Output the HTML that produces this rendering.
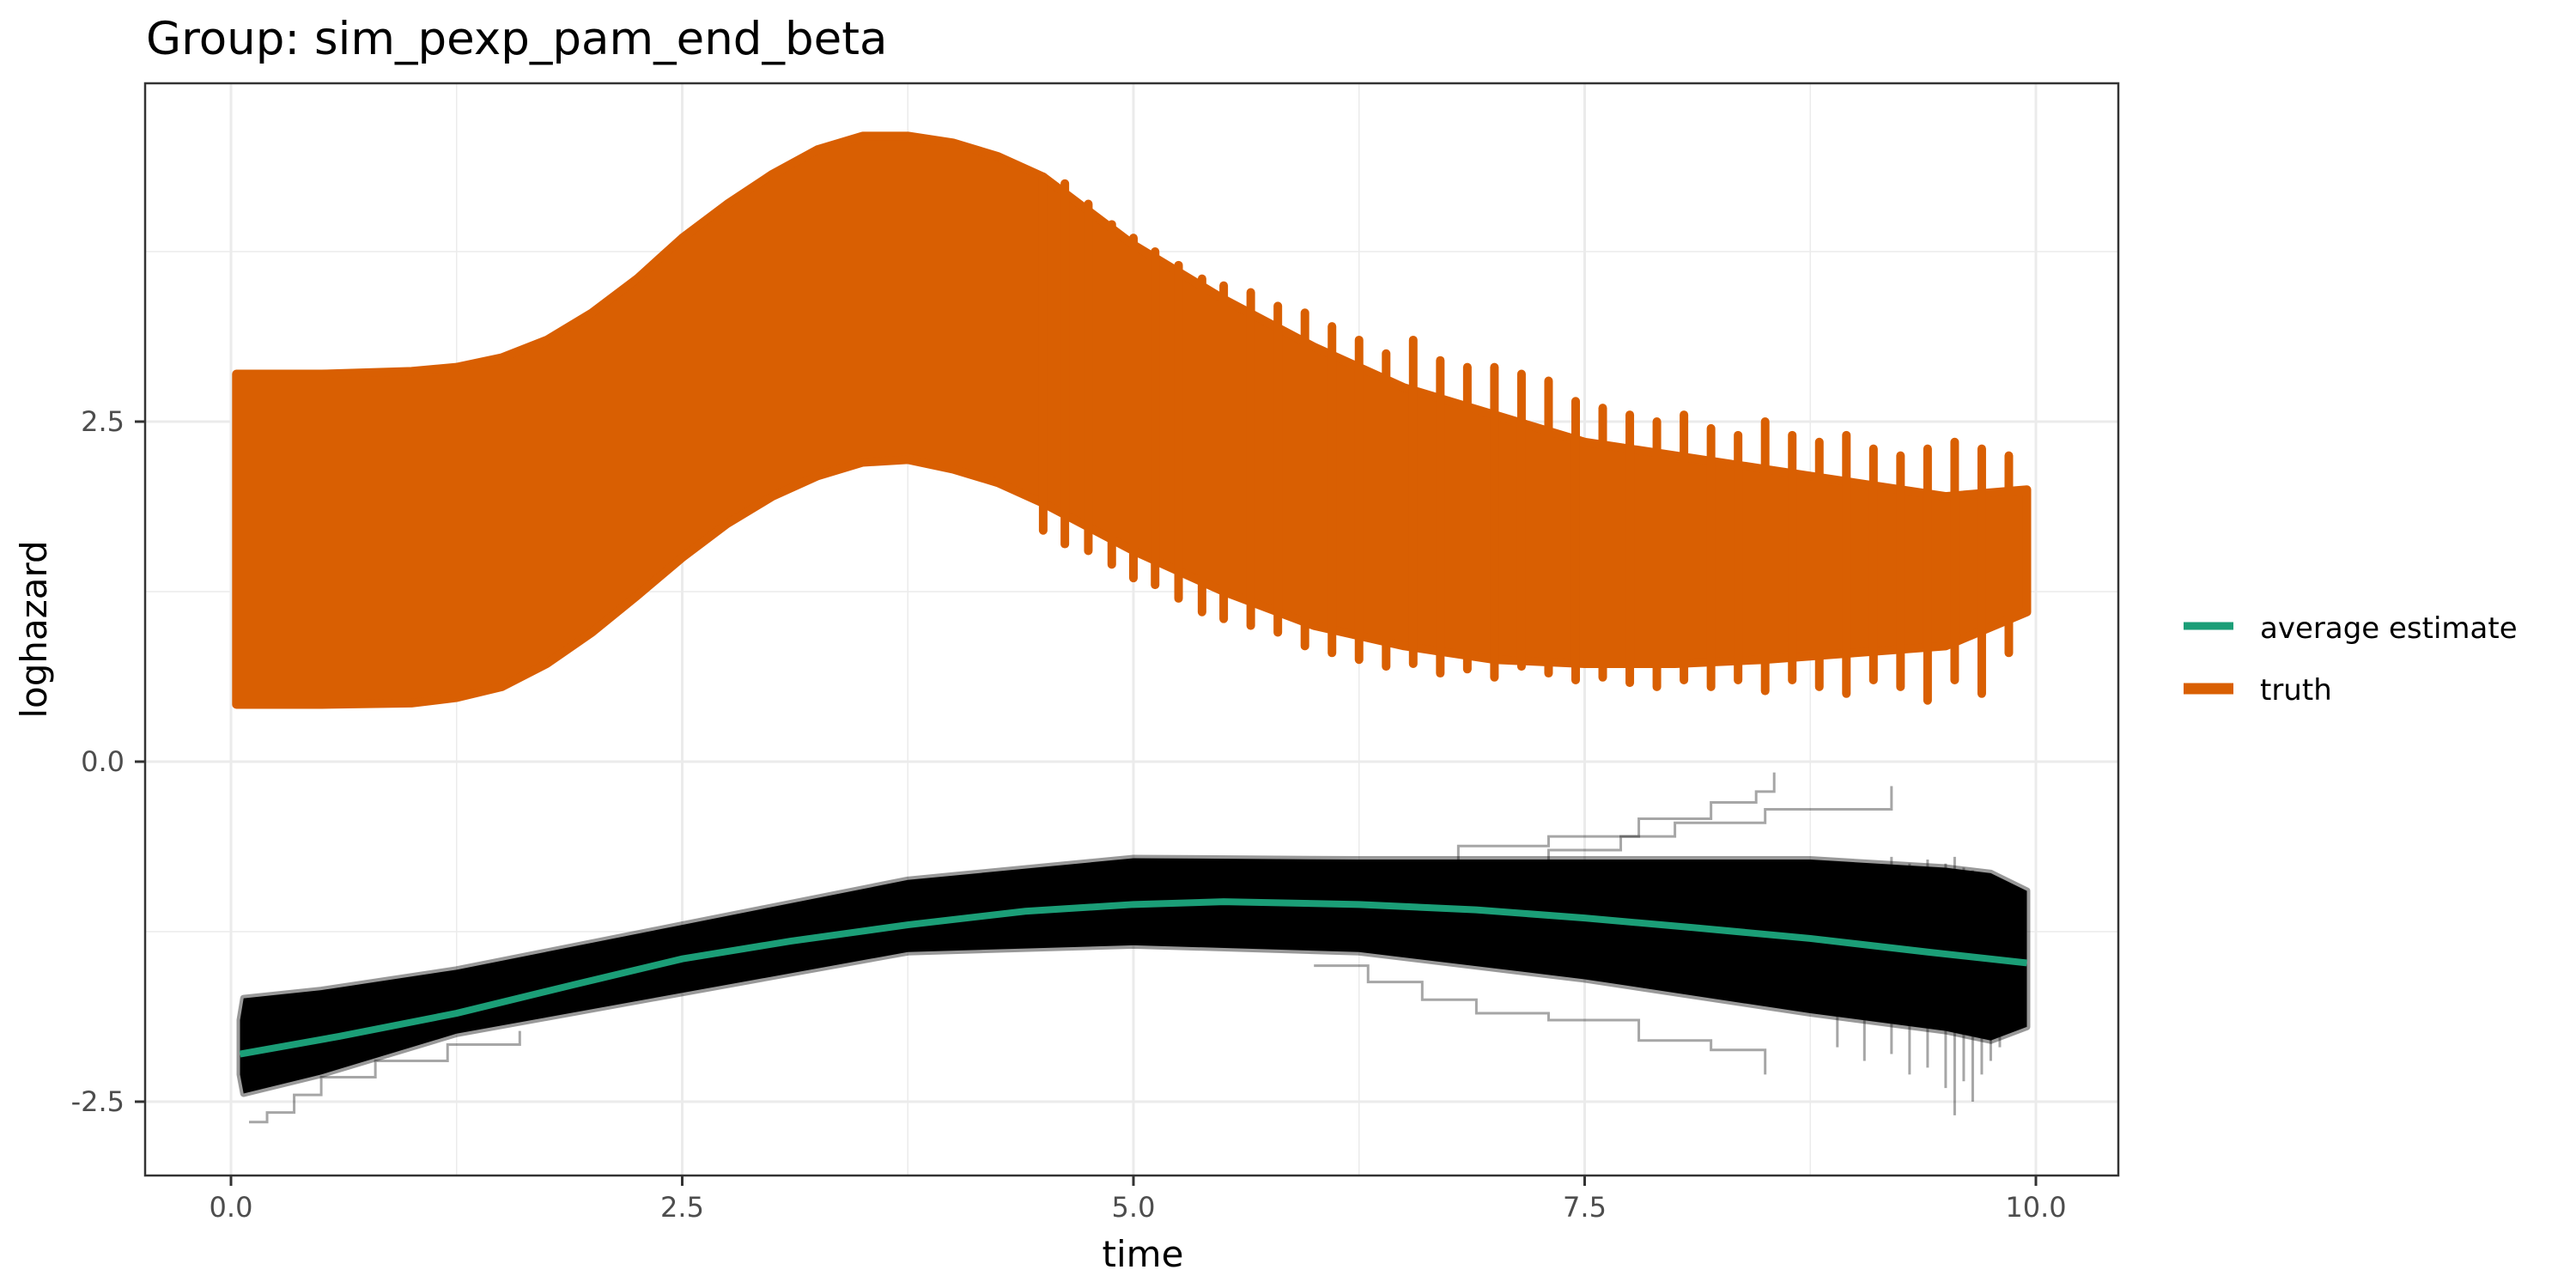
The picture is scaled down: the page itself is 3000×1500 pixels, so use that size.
<!DOCTYPE html>
<html><head><meta charset="utf-8"><style>
html,body{margin:0;padding:0;background:#fff}
svg{display:block}
text{font-family:"DejaVu Sans","Liberation Sans",sans-serif}
</style></head><body>
<svg id="chart" width="3000" height="1500" viewBox="0 0 3000 1500" xmlns="http://www.w3.org/2000/svg">
<rect x="0" y="0" width="3000" height="1500" fill="#fff"/>
<text x="170" y="63" font-size="53" fill="#000">Group: sim_pexp_pam_end_beta</text>
<g id="grid"></g>
<g id="marks"></g>
<rect x="169" y="97" width="2298" height="1272" fill="none" stroke="#333" stroke-width="2.5"/>
<g id="axes"></g>
<text x="1331" y="1475" font-size="42" text-anchor="middle" fill="#000">time</text>
<text transform="translate(54,733) rotate(-90)" font-size="42" text-anchor="middle" fill="#000">loghazard</text>
<g>
<line x1="2543" y1="729" x2="2601" y2="729" stroke="#1b9e77" stroke-width="9"/>
<text x="2632" y="743" font-size="34" fill="#000">average estimate</text>
<line x1="2543" y1="802" x2="2601" y2="802" stroke="#d95f02" stroke-width="13"/>
<text x="2632" y="815" font-size="34" fill="#000">truth</text>
</g>
</svg>
<script>
const xTicks=[0,2.5,5,7.5,10];
const xTickLabels=["0.0","2.5","5.0","7.5","10.0"];
const yTicks=[-2.5,0,2.5];
const yTickLabels=["-2.5","0.0","2.5"];
const xMinor=[1.25,3.75,6.25,8.75];
const yMinor=[-1.25,1.25,3.75];
// truth: solid band envelope
const bandT=[0.03,0.5,1.0,1.25,1.5,1.75,2.0,2.25,2.5,2.75,3.0,3.25,3.5,3.75,4.0,4.25,4.5,5.0,5.5,6.0,6.5,7.0,7.5,8.0,8.5,9.0,9.5,9.95];
const bandHi=[2.85,2.85,2.87,2.9,2.97,3.1,3.3,3.55,3.85,4.1,4.32,4.5,4.6,4.6,4.55,4.45,4.3,3.8,3.4,3.05,2.75,2.55,2.35,2.25,2.15,2.05,1.95,2.0];
const bandLo=[0.42,0.42,0.43,0.47,0.55,0.72,0.95,1.22,1.5,1.75,1.95,2.1,2.2,2.22,2.15,2.05,1.9,1.55,1.25,1.0,0.85,0.75,0.72,0.72,0.75,0.8,0.85,1.1];
// truth: spikes beyond the band
const spikeT=[4.5,4.62,4.75,4.88,5.0,5.12,5.25,5.38,5.5,5.65,5.8,5.95,6.1,6.25,6.4,6.55,6.7,6.85,7.0,7.15,7.3,7.45,7.6,7.75,7.9,8.05,8.2,8.35,8.5,8.65,8.8,8.95,9.1,9.25,9.4,9.55,9.7,9.85];
const spikeHi=[4.3,4.25,4.1,3.95,3.85,3.75,3.65,3.55,3.5,3.45,3.35,3.3,3.2,3.1,3.0,3.1,2.95,2.9,2.9,2.85,2.8,2.65,2.6,2.55,2.5,2.55,2.45,2.4,2.5,2.4,2.35,2.4,2.3,2.25,2.3,2.35,2.3,2.25];
const spikeLo=[1.7,1.6,1.55,1.45,1.35,1.3,1.2,1.1,1.05,1.0,0.95,0.85,0.8,0.75,0.7,0.72,0.65,0.68,0.62,0.7,0.65,0.6,0.62,0.58,0.55,0.6,0.55,0.6,0.52,0.6,0.55,0.5,0.6,0.55,0.45,0.6,0.5,0.8];
// estimates: dense black band of lines
const estT=[0.05,0.07,0.5,1.25,2.5,3.75,5.0,6.25,7.5,8.75,9.5,9.75,9.95];
const estHi=[-1.9,-1.74,-1.68,-1.53,-1.2,-0.87,-0.71,-0.72,-0.72,-0.72,-0.78,-0.82,-0.95];
const estLo=[-2.3,-2.44,-2.3,-2.0,-1.7,-1.4,-1.35,-1.4,-1.6,-1.85,-1.98,-2.05,-1.95];
// average estimate
const avgT=[0.05,0.6,1.25,1.9,2.5,3.1,3.75,4.4,5.0,5.5,6.25,6.9,7.5,8.1,8.75,9.4,9.95];
const avgY=[-2.15,-2.02,-1.85,-1.64,-1.45,-1.32,-1.2,-1.1,-1.05,-1.03,-1.05,-1.09,-1.15,-1.22,-1.3,-1.4,-1.48];
// outlier estimate step lines
const outT1=[6.3,6.8,7.3,7.8,8.2,8.45,8.55];
const outY1=[-0.75,-0.62,-0.55,-0.42,-0.3,-0.22,-0.08];
const outT2=[6.8,7.3,7.7,8.0,8.5,9.2];
const outY2=[-0.75,-0.65,-0.55,-0.45,-0.35,-0.18];
const outT3=[6.0,6.3,6.6,6.9,7.3,7.8,8.2,8.5];
const outY3=[-1.5,-1.62,-1.75,-1.85,-1.9,-2.05,-2.12,-2.3];
const outT4=[0.1,0.2,0.35,0.5,0.8,1.2,1.6];
const outY4=[-2.65,-2.58,-2.45,-2.32,-2.2,-2.08,-1.98];
// ragged right-end estimate ends
const tailT=[8.9,9.05,9.2,9.3,9.4,9.5,9.55,9.6,9.65,9.7,9.75,9.8];
const tailLo=[-2.1,-2.2,-2.15,-2.3,-2.25,-2.4,-2.6,-2.35,-2.5,-2.3,-2.2,-2.1];
const tailHi=[-0.75,-0.8,-0.7,-0.75,-0.72,-0.75,-0.7,-0.78,-0.8,-0.9,-1.0,-1.1];

const NS='http://www.w3.org/2000/svg';
const X0=269,X1=2371,Y0=887,YS=158.4;
function sx(t){return X0+(X1-X0)*t/10;}
function sy(v){return Y0-v*YS;}
function mk(tag,attrs,parent){const e=document.createElementNS(NS,tag);for(const k in attrs)e.setAttribute(k,attrs[k]);parent.appendChild(e);return e;}
const grid=document.getElementById('grid'),marks=document.getElementById('marks'),axes=document.getElementById('axes');
xMinor.forEach(t=>{const l=mk('line',{x1:sx(t),x2:sx(t),y1:97,y2:1369,stroke:'#ebebeb','stroke-width':1.5},grid);

});
yMinor.forEach(v=>{const l=mk('line',{x1:169,x2:2467,y1:sy(v),y2:sy(v),stroke:'#ebebeb','stroke-width':1.5},grid);

});
xTicks.forEach((t,i)=>{const l=mk('line',{x1:sx(t),x2:sx(t),y1:97,y2:1369,stroke:'#ebebeb','stroke-width':3},grid);


const k=mk('line',{x1:sx(t),x2:sx(t),y1:1369,y2:1381,stroke:'#333','stroke-width':3},axes);


const tx=mk('text',{x:sx(t),y:1417,'font-size':32,'text-anchor':'middle',fill:'#4d4d4d'},axes);tx.textContent=xTickLabels[i];

});
yTicks.forEach((v,i)=>{const l=mk('line',{x1:169,x2:2467,y1:sy(v),y2:sy(v),stroke:'#ebebeb','stroke-width':3},grid);


const k=mk('line',{x1:157,x2:169,y1:sy(v),y2:sy(v),stroke:'#333','stroke-width':3},axes);


const tx=mk('text',{x:145,y:sy(v)+11,'font-size':32,'text-anchor':'end',fill:'#4d4d4d'},axes);tx.textContent=yTickLabels[i];

});
// truth band
let d='M'+bandT.map((t,i)=>sx(t)+','+sy(bandHi[i])).join('L')+'L'+bandT.map((t,i)=>sx(t)+','+sy(bandLo[i])).reverse().join('L')+'Z';
const tb=mk('path',{d:d,fill:'#d95f02',stroke:'#d95f02','stroke-width':10,'stroke-linejoin':'round'},marks);


spikeT.forEach((t,i)=>{const s=mk('line',{x1:sx(t),x2:sx(t),y1:sy(spikeHi[i]),y2:sy(spikeLo[i]),stroke:'#d95f02','stroke-width':10,'stroke-linecap':'round'},marks);

});
// estimate band
tailT.forEach((t,i)=>{const s=mk('line',{x1:sx(t),x2:sx(t),y1:sy(tailHi[i]),y2:sy(tailLo[i]),stroke:'#000','stroke-opacity':0.35,'stroke-width':3},marks);

});
d='M'+estT.map((t,i)=>sx(t)+','+sy(estHi[i])).join('L')+'L'+estT.map((t,i)=>sx(t)+','+sy(estLo[i])).reverse().join('L')+'Z';
const eb=mk('path',{d:d,fill:'#000',stroke:'#000','stroke-width':8,'stroke-opacity':0.4,'stroke-linejoin':'round'},marks);


function stepPath(T,Y){let p='M'+sx(T[0])+','+sy(Y[0]);for(let i=1;i<T.length;i++){p+='L'+sx(T[i])+','+sy(Y[i-1])+'L'+sx(T[i])+','+sy(Y[i]);}return p;}
[[outT1,outY1],[outT2,outY2],[outT3,outY3],[outT4,outY4]].forEach(a=>{const o=mk('path',{d:stepPath(a[0],a[1]),fill:'none',stroke:'#000','stroke-opacity':0.35,'stroke-width':3},marks);

});
const av=mk('polyline',{points:avgT.map((t,i)=>sx(t)+','+sy(avgY[i])).join(' '),fill:'none',stroke:'#1b9e77','stroke-width':8},marks);


</script>
</body></html>
